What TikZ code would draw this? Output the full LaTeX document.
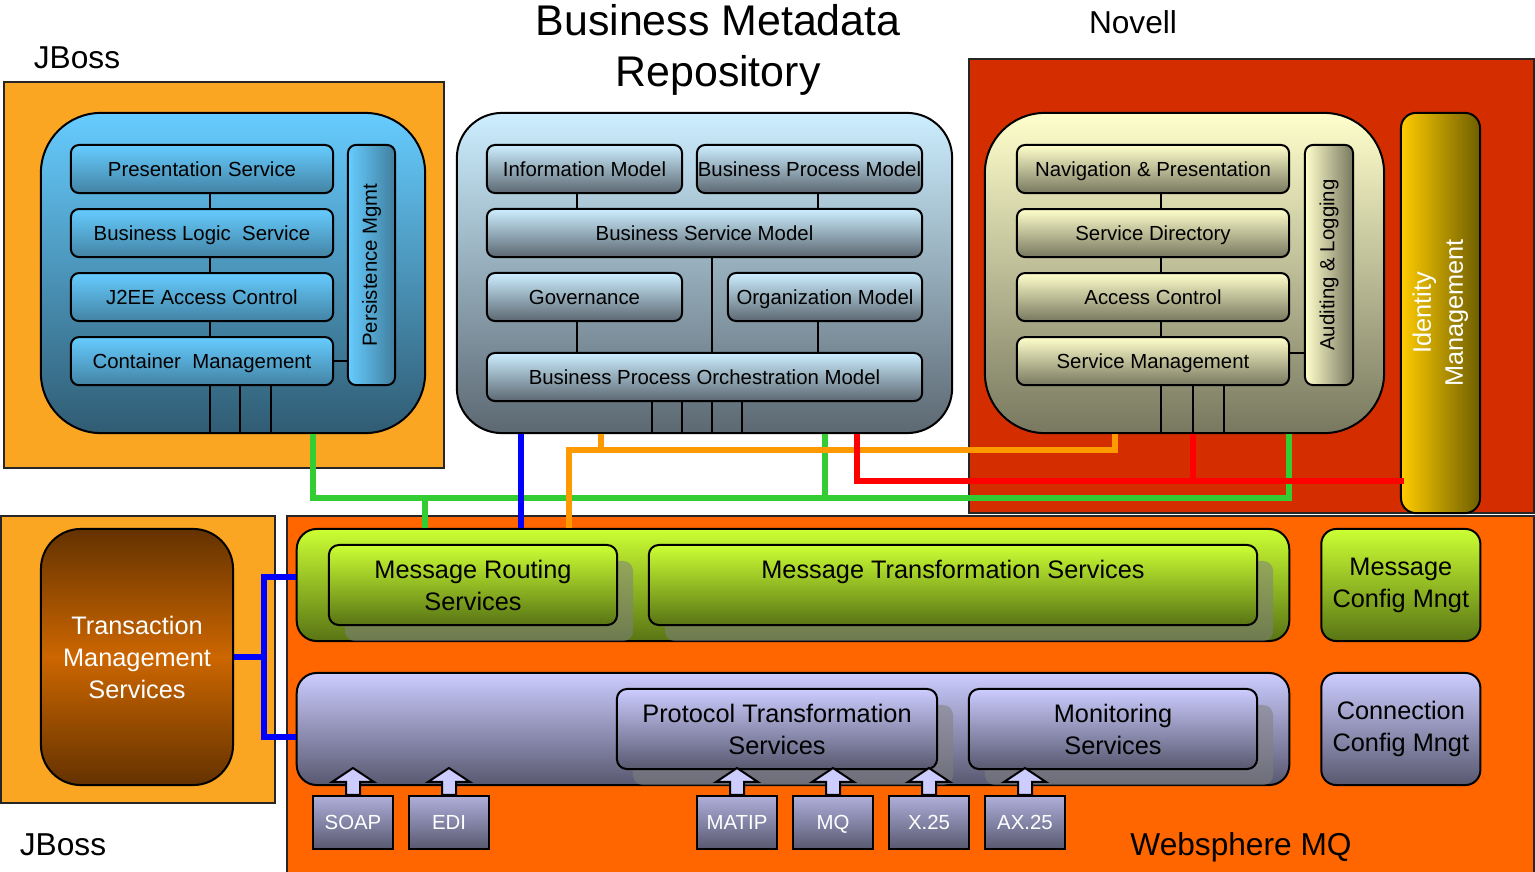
\documentclass[tikz,border=0pt]{standalone}
\usepackage{fontspec}
\setmainfont{Liberation Sans}
\usetikzlibrary{positioning,shadows,calc}

\definecolor{jbossorange}{RGB}{250,166,35}
\definecolor{novellred}{RGB}{212,46,0}
\definecolor{wmqorange}{RGB}{255,102,0}
\definecolor{skytop}{RGB}{102,204,255}
\definecolor{skybot}{RGB}{48,92,115}
\definecolor{icetop}{RGB}{204,238,255}
\definecolor{icebot}{RGB}{92,104,114}
\definecolor{creamtop}{RGB}{255,255,204}
\definecolor{creambot}{RGB}{120,120,96}
\definecolor{limetop}{RGB}{204,255,51}
\definecolor{limebot}{RGB}{88,116,20}
\definecolor{lilactop}{RGB}{204,204,255}
\definecolor{lilacbot}{RGB}{88,88,112}
\definecolor{goldleft}{RGB}{255,204,0}
\definecolor{goldright}{RGB}{110,94,0}
\definecolor{brownedge}{RGB}{100,50,0}
\definecolor{brownmid}{RGB}{204,102,0}
\definecolor{linkgreen}{RGB}{51,204,51}
\definecolor{linkorange}{RGB}{255,153,0}

\newcommand\itemfont{\fontsize{5.8pt}{7pt}\selectfont}
\newcommand\busfont{\fontsize{7.2pt}{9.1pt}\selectfont}
\newcommand\tagfont{\fontsize{9pt}{10pt}\selectfont}
\newcommand\hdfont{\fontsize{12.2pt}{14.4pt}\selectfont}

\tikzset{
  outerbox/.style={draw=black!85, line width=.02cm},
  stack/.style={draw, line width=.02cm, rounded corners=#1},
  svcbox/.style={draw, line width=.02cm, rounded corners=.08cm, minimum height=.48cm,
    inner sep=0pt, font=\itemfont, text height=4.2pt, text depth=0pt},
  skybox/.style={svcbox, top color=skytop, bottom color=skytop!35!skybot},
  icebox/.style={svcbox, top color=icetop, bottom color=icebot},
  creambox/.style={svcbox, top color=creamtop, bottom color=creambot},
  busbox/.style={draw, line width=.02cm, rounded corners=.1cm, inner sep=0pt,
    minimum height=.8cm, font=\busfont, align=center,
    drop shadow={shadow xshift=.16cm, shadow yshift=-.16cm, fill=gray, opacity=.55}},
  cfgbox/.style={draw, line width=.02cm, rounded corners=.15cm, inner sep=0pt,
    minimum width=1.59cm, minimum height=1.12cm, font=\busfont, align=center},
  proto/.style={draw, line width=.02cm, top color=lilactop!75!lilacbot, bottom color=lilacbot,
    minimum width=.8cm, minimum height=.53cm, inner sep=0pt, text=white, font=\itemfont,
    text height=4.2pt, text depth=0pt},
  feed/.style={draw, line width=.02cm, fill=lilactop},
  wire/.style={line width=.02cm},
  buslink/.style={line width=.06cm, color=#1}
}

\begin{document}
\begin{tikzpicture}[x=.01cm, y=-.01cm]
\useasboundingbox (0,0) rectangle (1535,872);

\node[font=\hdfont, align=center] (bmtitle) at (718,50) {Business Metadata\\Repository};
\node[font=\tagfont] (jbosstop) at (77,58) {JBoss};
\node[font=\tagfont] (novell) at (1133,22) {Novell};
\node[font=\tagfont] (jbossbot) at (63,845) {JBoss};

\node[outerbox, fill=jbossorange, minimum width=4.40cm, minimum height=3.86cm] (jbframe) at (224,275) {};
\node[stack=.6cm, top color=skytop, bottom color=skybot, minimum width=3.84cm, minimum height=3.2cm] (jbc) at (233,273) {};
\node[skybox, minimum width=2.62cm] (ps) at (202,169) {Presentation Service};
\node[skybox, minimum width=2.62cm, below=.14cm of ps] (bls) {Business Logic\ \ Service};
\node[skybox, minimum width=2.62cm, below=.14cm of bls] (jac) {J2EE Access Control};
\node[skybox, minimum width=2.62cm, below=.14cm of jac] (cm) {Container\ \ Management};
\node[svcbox, left color=skytop, right color=skytop!30!skybot, minimum width=.47cm, minimum height=2.4cm,
  text height=, text depth=] (pm) at (371.5,265) {\rotatebox{90}{Persistence Mgmt}};
\draw[wire] ($(ps.south)+(8,0)$) -- ($(bls.north)+(8,0)$);
\draw[wire] ($(bls.south)+(8,0)$) -- ($(jac.north)+(8,0)$);
\draw[wire] ($(jac.south)+(8,0)$) -- ($(cm.north)+(8,0)$);
\draw[wire] (cm.east) -- (cm.east -| pm.west);
\foreach \dx in {8,38,69}
  \draw[wire] ($(cm.south)+(\dx,0)$) -- ++(0,48);

\node[stack=.45cm, top color=icetop, bottom color=icebot, minimum width=4.95cm, minimum height=3.2cm] (bmc) at (704.5,273) {};
\node[icebox, minimum width=1.95cm] (info) at (584.5,169) {Information Model};
\node[icebox, minimum width=2.25cm] (bpm) at (809.5,169) {Business Process Model};
\node[icebox, minimum width=4.35cm] (bsm) at (704.5,233) {Business Service Model};
\node[icebox, minimum width=1.95cm] (gov) at (584.5,297) {Governance};
\node[icebox, minimum width=1.94cm] (org) at (825,297) {Organization Model};
\node[icebox, minimum width=4.35cm] (bpom) at (704.5,377) {Business Process Orchestration Model};
\draw[wire] ($(info.south)+(-7.5,0)$) -- ($(info.south)+(-7.5,16)$);
\draw[wire] ($(bpm.south)+(8.5,0)$) -- ($(bpm.south)+(8.5,16)$);
\draw[wire] ($(bsm.south)+(7.5,0)$) -- ($(bpom.north)+(7.5,0)$);
\draw[wire] ($(gov.south)+(-7.5,0)$) -- ($(gov.south)+(-7.5,32)$);
\draw[wire] ($(org.south)+(-7,0)$) -- ($(org.south)+(-7,32)$);
\foreach \dx in {-52.5,-22.5,7.5,37.5}
  \draw[wire] ($(bpom.south)+(\dx,0)$) -- ++(0,32);

\node[outerbox, fill=novellred, minimum width=5.65cm, minimum height=4.54cm] (nvframe) at (1251.5,286) {};
\node[stack=.6cm, top color=creamtop, bottom color=creambot, minimum width=3.99cm, minimum height=3.2cm] (nvc) at (1184.5,273) {};
\node[creambox, minimum width=2.72cm] (nav) at (1153,169) {Navigation \& Presentation};
\node[creambox, minimum width=2.72cm, below=.14cm of nav] (sdir) {Service Directory};
\node[creambox, minimum width=2.72cm, below=.14cm of sdir] (acc) {Access Control};
\node[creambox, minimum width=2.72cm, below=.14cm of acc] (smgt) {Service Management};
\node[svcbox, left color=creamtop, right color=creambot, minimum width=.48cm, minimum height=2.4cm,
  text height=, text depth=] (audit) at (1329,265) {\rotatebox{90}{Auditing \& Logging}};
\draw[wire] ($(nav.south)+(8,0)$) -- ($(sdir.north)+(8,0)$);
\draw[wire] ($(sdir.south)+(8,0)$) -- ($(acc.north)+(8,0)$);
\draw[wire] ($(acc.south)+(8,0)$) -- ($(smgt.north)+(8,0)$);
\draw[wire] ($(smgt.east)+(0,-8)$) -- ($(smgt.east -| audit.west)+(0,-8)$);
\foreach \dx in {8,40,71}
  \draw[wire] ($(smgt.south)+(\dx,0)$) -- ++(0,48);
\node[stack=.15cm, left color=goldleft, right color=goldright, minimum width=.79cm, minimum height=4cm,
  inner sep=0pt, text=white, font=\busfont] (idm) at (1440.5,313) {\rotatebox{90}{\begin{tabular}{@{}c@{}}Identity\\Management\end{tabular}}};

\node[outerbox, fill=jbossorange, minimum width=2.74cm, minimum height=2.87cm] (txframe) at (138,659.5) {};
\node[stack=.4cm, top color=brownedge, bottom color=brownedge, middle color=brownmid, minimum width=1.92cm,
  minimum height=2.56cm, text=white, font=\busfont, align=center] (tms) at (137,657) {Transaction\\Management\\Services};

\node[outerbox, fill=wmqorange, minimum width=12.47cm, minimum height=3.64cm] (wmqframe) at (910.5,698) {};
\node[stack=.2cm, top color=limetop, bottom color=limebot, minimum width=9.92cm, minimum height=1.12cm] (msgbus) at (793,585) {};
\node[busbox, top color=limetop, bottom color=limebot, minimum width=2.88cm] (mrs) at (473,585) {Message Routing\\Services};
\node[busbox, top color=limetop, bottom color=limebot, minimum width=6.08cm] (mts) at (953,585) {Message Transformation Services\\\mbox{}};
\node[cfgbox, top color=limetop, bottom color=limebot, right=.30cm of msgbus] (mcm) {Message\\Config Mngt};
\node[stack=.2cm, top color=lilactop, bottom color=lilacbot, minimum width=9.92cm, minimum height=1.12cm] (conbus) at (793,729) {};
\node[busbox, top color=lilactop, bottom color=lilacbot, minimum width=3.2cm] (pts) at (777,729) {Protocol Transformation\\Services};
\node[busbox, top color=lilactop, bottom color=lilacbot, minimum width=2.88cm] (mon) at (1113,729) {Monitoring\\Services};
\node[cfgbox, top color=lilactop, bottom color=lilacbot, right=.30cm of conbus] (ccm) {Connection\\Config Mngt};
\foreach \pname/\ptext/\px in {soap/SOAP/353, edi/EDI/449, matip/MATIP/737, mq/MQ/833, xtf/X.25/929, axtf/AX.25/1025}{
  \node[proto] (\pname) at (\px,822.5) {\ptext};
  \draw[feed] ($(\pname.north)+(-7,0)$) -- ++(0,-13) -- ++(-14,0) -- ++(21,-14) -- ++(21,14) -- ++(-14,0) -- ++(0,13) -- cycle;
}
\node[font=\tagfont] (wmqlabel) at (1241,847) {Websphere MQ};

\draw[buslink=linkgreen] ($(jbc.south)+(80,0)$) |- ($(nvc.south)+(104.5,64)$) -- ($(nvc.south)+(104.5,0)$);
\draw[buslink=linkgreen] ($(bmc.south)+(120.5,0)$) -- ++(0,64);
\draw[buslink=linkgreen] ($(msgbus.north)+(-368,-32)$) -- ($(msgbus.north)+(-368,0)$);
\draw[buslink=blue] ($(bmc.south)+(-183.5,0)$) -- ($(msgbus.north)+(-272,0)$);
\draw[buslink=linkorange] ($(msgbus.north)+(-224,0)$) |- ($(nvc.south)+(-69.5,16)$) -- ($(nvc.south)+(-69.5,0)$);
\draw[buslink=linkorange] ($(bmc.south)+(-103.5,0)$) -- ++(0,16);
\draw[buslink=red] ($(bmc.south)+(152.5,0)$) |- ($(idm.west)+(4,168)$);
\draw[buslink=red] ($(nvc.south)+(8.5,0)$) -- ++(0,48);
\draw[buslink=blue] (tms.east) -- ++(32,0);
\draw[buslink=blue] ($(msgbus.west)+(0,-8)$) -- ++(-32,0) |- ($(conbus.west)+(0,8)$);
\end{tikzpicture}
\end{document}
